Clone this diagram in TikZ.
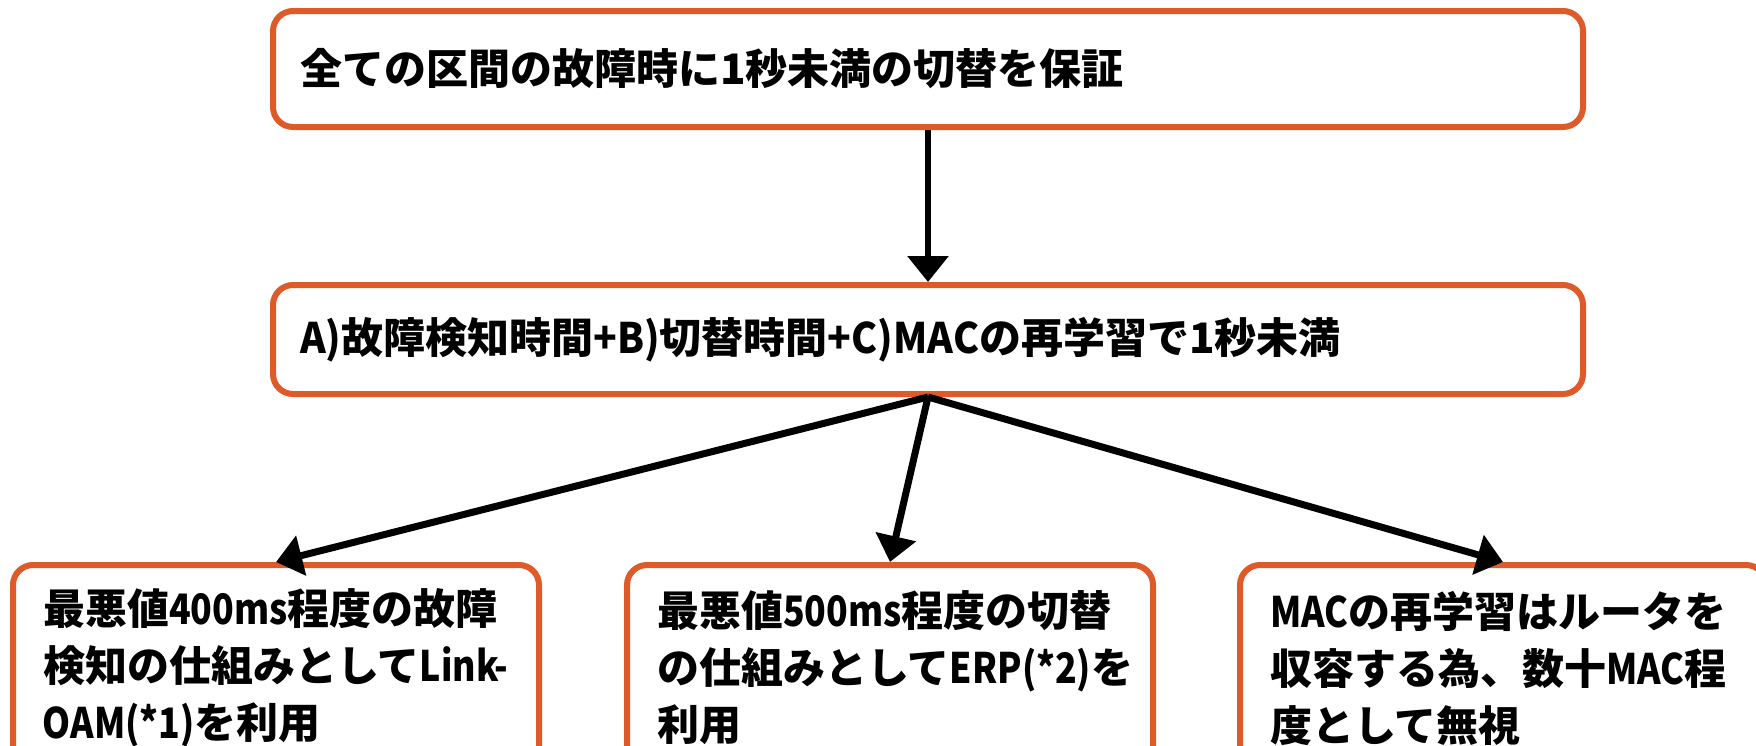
\documentclass[tikz,border=0pt]{standalone}
\usepackage{fontspec}
\setmainfont{Noto Sans CJK JP}
\newfontfamily\lat{Noto Sans CJK JP}[FakeStretch=0.85]
\newfontfamily\latm{Noto Sans CJK JP}[FakeStretch=0.93]
\usetikzlibrary{arrows.meta}
\definecolor{boxorange}{RGB}{222,90,40}
\exhyphenpenalty=10000
\hyphenpenalty=10000
\begin{document}
\begin{tikzpicture}[x=1pt,y=-1pt,
  box/.style={draw=boxorange,line width=6pt,rounded corners=20pt,fill=white,inner sep=0pt,
    font=\fontsize{42}{57}\selectfont\bfseries,align=left},
  widebox/.style={box,minimum width=1310pt,text width=1256pt},
  smallbox/.style={box,minimum width=526pt,minimum height=206pt,text width=466pt},
  arr/.style={draw=black,line width=7pt,-{Triangle[length=26pt,width=40pt]}}]
\useasboundingbox (0,0) rectangle (1756,745);
\clip (0,0) rectangle (1756,745);
\node[widebox,minimum height=116pt] (top) at (928,69) {全ての区間の故障時に1秒未満の切替を保証};
\node[widebox,minimum height=109pt] (mid) at (928,339.5) {{\latm A)}故障検知時間{\latm +B)}切替時間{\latm +C)MAC}の再学習で1秒未満};
\node[smallbox] (b1) at (276,668) {最悪値{\lat 400ms}程度の故障\\検知の仕組みとして{\lat Link-}\\{\lat OAM(*1)}を利用};
\node[smallbox] (b2) at (890,668) {最悪値{\lat 500ms}程度の切替\\の仕組みとして{\lat ERP(*2)}を\\利用};
\node[smallbox] (b3) at (1503,668) {{\lat MAC}の再学習はルータを\\収容する為、数十{\lat MAC}程\\度として無視};
\draw[arr,line width=6pt] (top.south) -- (mid.north);
\draw[arr] (mid.south) -- (b1.north);
\draw[arr] (mid.south) -- (b2.north);
\draw[arr] (mid.south) -- (b3.north);
\end{tikzpicture}
\end{document}
